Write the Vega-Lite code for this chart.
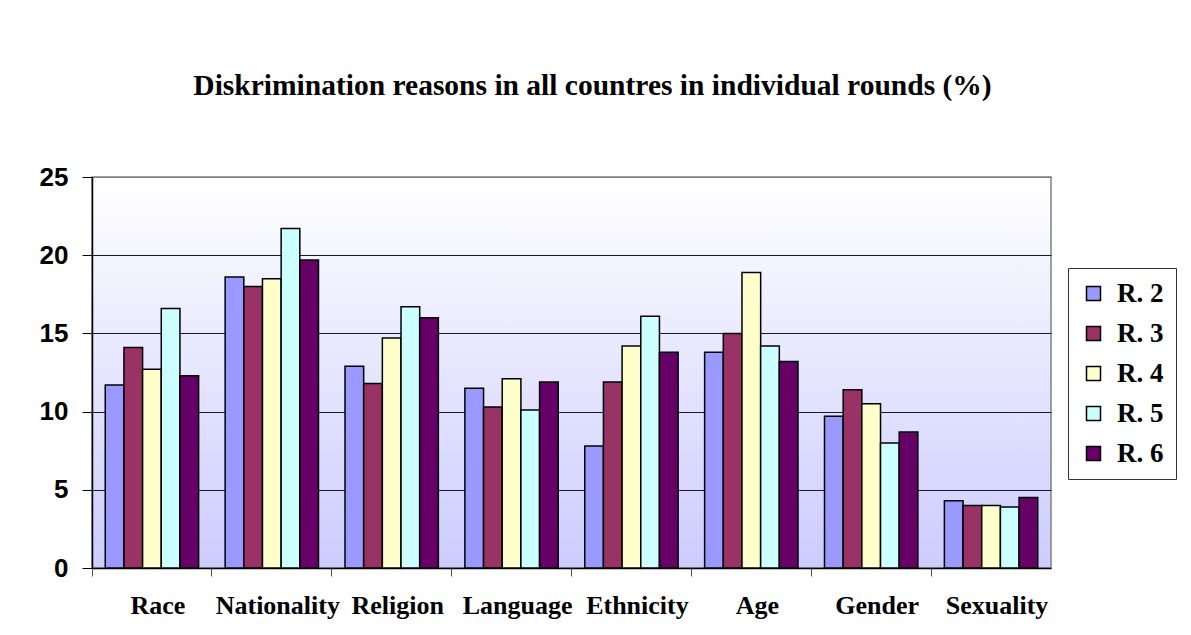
{
  "$schema": "https://vega.github.io/schema/vega-lite/v6.json",
  "autosize": {"type": "none"},
  "width": 959,
  "height": 391,
  "padding": {"left": 92, "top": 177, "right": 140, "bottom": 67},
  "background": "white",
  "title": {
    "text": "Diskrimination reasons in all countres in individual rounds (%)",
    "font": "Liberation Serif",
    "fontSize": 29.5,
    "fontWeight": "bold",
    "color": "black",
    "anchor": "middle",
    "baseline": "alphabetic",
    "offset": 40,
    "dx": 21
  },
  "view": {
    "stroke": "#808080",
    "strokeWidth": 1.5,
    "fill": {
      "gradient": "linear",
      "x1": 0, "y1": 0, "x2": 0, "y2": 1,
      "stops": [
        {"offset": 0, "color": "#ffffff"},
        {"offset": 1, "color": "#ccccff"}
      ]
    }
  },
  "data": {
    "values": [
      {"reason": "Race", "round": "R. 2", "value": 11.7},
      {"reason": "Race", "round": "R. 3", "value": 14.1},
      {"reason": "Race", "round": "R. 4", "value": 12.7},
      {"reason": "Race", "round": "R. 5", "value": 16.6},
      {"reason": "Race", "round": "R. 6", "value": 12.3},
      {"reason": "Nationality", "round": "R. 2", "value": 18.6},
      {"reason": "Nationality", "round": "R. 3", "value": 18.0},
      {"reason": "Nationality", "round": "R. 4", "value": 18.5},
      {"reason": "Nationality", "round": "R. 5", "value": 21.7},
      {"reason": "Nationality", "round": "R. 6", "value": 19.7},
      {"reason": "Religion", "round": "R. 2", "value": 12.9},
      {"reason": "Religion", "round": "R. 3", "value": 11.8},
      {"reason": "Religion", "round": "R. 4", "value": 14.7},
      {"reason": "Religion", "round": "R. 5", "value": 16.7},
      {"reason": "Religion", "round": "R. 6", "value": 16.0},
      {"reason": "Language", "round": "R. 2", "value": 11.5},
      {"reason": "Language", "round": "R. 3", "value": 10.3},
      {"reason": "Language", "round": "R. 4", "value": 12.1},
      {"reason": "Language", "round": "R. 5", "value": 10.1},
      {"reason": "Language", "round": "R. 6", "value": 11.9},
      {"reason": "Ethnicity", "round": "R. 2", "value": 7.8},
      {"reason": "Ethnicity", "round": "R. 3", "value": 11.9},
      {"reason": "Ethnicity", "round": "R. 4", "value": 14.2},
      {"reason": "Ethnicity", "round": "R. 5", "value": 16.1},
      {"reason": "Ethnicity", "round": "R. 6", "value": 13.8},
      {"reason": "Age", "round": "R. 2", "value": 13.8},
      {"reason": "Age", "round": "R. 3", "value": 15.0},
      {"reason": "Age", "round": "R. 4", "value": 18.9},
      {"reason": "Age", "round": "R. 5", "value": 14.2},
      {"reason": "Age", "round": "R. 6", "value": 13.2},
      {"reason": "Gender", "round": "R. 2", "value": 9.7},
      {"reason": "Gender", "round": "R. 3", "value": 11.4},
      {"reason": "Gender", "round": "R. 4", "value": 10.5},
      {"reason": "Gender", "round": "R. 5", "value": 8.0},
      {"reason": "Gender", "round": "R. 6", "value": 8.7},
      {"reason": "Sexuality", "round": "R. 2", "value": 4.3},
      {"reason": "Sexuality", "round": "R. 3", "value": 4.0},
      {"reason": "Sexuality", "round": "R. 4", "value": 4.0},
      {"reason": "Sexuality", "round": "R. 5", "value": 3.9},
      {"reason": "Sexuality", "round": "R. 6", "value": 4.5}
    ]
  },
  "mark": {"type": "bar", "stroke": "black", "strokeWidth": 1.5},
  "encoding": {
    "x": {
      "field": "reason",
      "type": "nominal",
      "sort": ["Race", "Nationality", "Religion", "Language", "Ethnicity", "Age", "Gender", "Sexuality"],
      "scale": {"paddingInner": 0, "paddingOuter": 0},
      "axis": {
        "title": null,
        "labelAngle": 0,
        "bandPosition": 0,
        "labelOffset": 6,
        "labelFont": "Liberation Serif",
        "labelFontSize": 26,
        "labelFontWeight": "bold",
        "labelColor": "black",
        "labelPadding": 16,
        "tickSize": 8,
        "tickColor": "#555555",
        "domainColor": "black",
        "domainWidth": 1.5,
        "grid": false
      }
    },
    "xOffset": {
      "field": "round",
      "type": "nominal",
      "scale": {"paddingInner": 0, "paddingOuter": 0.71}
    },
    "y": {
      "field": "value",
      "type": "quantitative",
      "scale": {"domain": [0, 25], "nice": false},
      "axis": {
        "title": null,
        "values": [0, 5, 10, 15, 20, 25],
        "labelFont": "Liberation Sans",
        "labelFontSize": 26,
        "labelFontWeight": "bold",
        "labelColor": "black",
        "labelPadding": 14,
        "tickSize": 10,
        "tickColor": "black",
        "domainColor": "black",
        "domainWidth": 1.5,
        "grid": true,
        "gridColor": {"condition": {"test": "datum.value === 25 || datum.value === 0", "value": "#808080"}, "value": "#1a1a1a"},
        "gridWidth": 1
      }
    },
    "color": {
      "field": "round",
      "type": "nominal",
      "scale": {
        "domain": ["R. 2", "R. 3", "R. 4", "R. 5", "R. 6"],
        "range": ["#9999ff", "#993366", "#ffffcc", "#ccffff", "#660066"]
      },
      "legend": {
        "title": null,
        "orient": "none",
        "legendX": 976,
        "legendY": 91,
        "fillColor": "white",
        "strokeColor": "#333333",
        "padding": 12,
        "symbolType": "square",
        "symbolSize": 196,
        "symbolStrokeColor": "black",
        "symbolStrokeWidth": 1.5,
        "labelFont": "Liberation Serif",
        "labelFontSize": 27,
        "labelFontWeight": "bold",
        "labelColor": "black",
        "labelOffset": 10,
        "rowPadding": 12
      }
    }
  }
}
